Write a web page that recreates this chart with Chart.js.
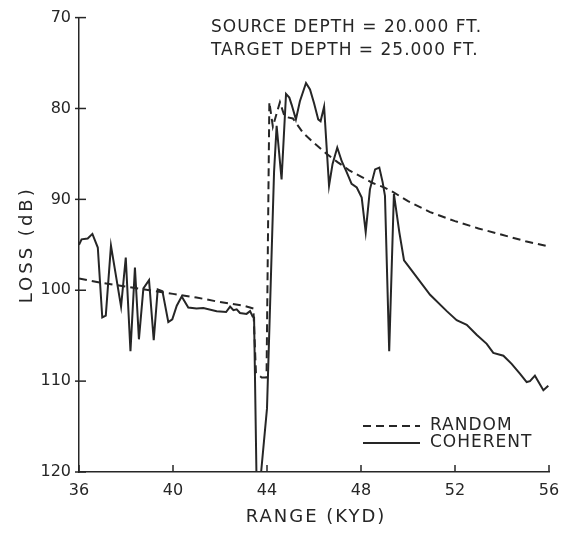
<!DOCTYPE html>
<html>
<head>
<meta charset="utf-8">
<script src="https://cdn.jsdelivr.net/npm/chart.js@4.4.0/dist/chart.umd.min.js"></script>
<style>
  html, body { margin: 0; padding: 0; background: #fff; }
  #wrap { width: 577px; height: 533px; }
</style>
</head>
<body>
<div id="wrap"><canvas id="loss-chart" width="577" height="533"></canvas></div>
<script>
// --- data ---
const xTicks = [36, 40, 44, 48, 52, 56];
const yTicks = [70, 80, 90, 100, 110, 120];

const coherentRange = [
  36.0, 36.11, 36.37, 36.57, 36.8, 36.99, 37.14, 37.36, 37.79, 37.99,
  38.19, 38.38, 38.55, 38.74, 38.98, 39.18, 39.35, 39.55, 39.8, 39.97,
  40.16, 40.37, 40.65, 41.0, 41.29, 41.86, 42.26, 42.43, 42.57, 42.71,
  42.85, 43.13, 43.28, 43.39, 43.45, 43.55, 43.75, 44.0, 44.15, 44.3,
  44.41, 44.62, 44.81, 44.95, 45.05, 45.23, 45.4, 45.66, 45.83, 46.0,
  46.18, 46.28, 46.43, 46.64, 46.79, 46.99, 47.18, 47.39, 47.6, 47.82,
  48.03, 48.2, 48.38, 48.6, 48.78, 48.92, 49.02, 49.2, 49.4, 49.63,
  49.83, 50.09, 50.94, 51.65, 52.07, 52.5, 52.92, 53.35, 53.63, 54.06,
  54.41, 54.77, 55.05, 55.19, 55.4, 55.76, 55.97
];
const coherentLoss = [
  95.0, 94.4, 94.3, 93.8, 95.3, 103.0, 102.8, 95.1, 101.8, 96.4,
  106.7, 97.5, 105.4, 99.8, 98.9, 105.5, 99.9, 100.1, 103.5, 103.2,
  101.7, 100.7, 101.9, 102.0, 101.95, 102.3, 102.4, 101.8, 102.2, 102.1,
  102.5, 102.6, 102.3, 102.9, 103.0, 120, 120, 113, 100, 87,
  81.9, 87.8, 78.4, 78.8, 79.6, 81.2, 79.2, 77.2, 77.9, 79.4,
  81.2, 81.4, 79.8, 88.5, 86.1, 84.3, 85.8, 87.0, 88.3, 88.7,
  89.8, 93.6, 88.9, 86.7, 86.5, 88.1, 89.6, 106.7, 89.4, 93.6,
  96.7, 97.6, 100.5, 102.3, 103.3, 103.8, 104.9, 105.9, 106.9, 107.2,
  108.1, 109.2, 110.1, 110.0, 109.4, 111.0, 110.5
];

const randomRange = [
  36, 37, 38, 39, 40, 41, 42, 43, 43.42, 43.53,
  43.77, 43.98, 44.1, 44.25, 44.55, 44.75, 45.1, 45.54, 46, 46.54,
  47, 47.5, 48, 48.5, 49, 49.37, 50, 50.94, 52, 53,
  54, 55, 56
];
const randomLoss = [
  98.7, 99.2, 99.6, 100.0, 100.4, 100.8, 101.3, 101.7, 102.0, 109.1,
  109.6, 109.6, 79.3, 82.0, 79.3, 80.9, 81.1, 82.7, 83.8, 85.0,
  85.9, 86.8, 87.5, 88.2, 88.7, 89.2, 90.2, 91.4, 92.4, 93.2,
  93.9, 94.6, 95.2
];

const notes = ['SOURCE DEPTH = 20.000 FT.', 'TARGET DEPTH = 25.000 FT.'];
const xTitle = 'RANGE (KYD)';
const yTitle = 'LOSS (dB)';

const INK = '#262626';
const FONT = '"DejaVu Sans", sans-serif';

function toPoints(xs, ys) {
  return xs.map((x, i) => ({ x: x, y: ys[i] }));
}

// --- custom bits: inside ticks, titles, notes, legend ---
const decorations = {
  id: 'decorations',
  afterDraw(chart) {
    const ctx = chart.ctx;
    const xs = chart.scales.x;
    const ys = chart.scales.y;
    const area = chart.chartArea;
    ctx.save();
    ctx.strokeStyle = INK;
    ctx.lineWidth = 1.5;

    // tick marks
    yTicks.forEach(v => {
      const py = ys.getPixelForValue(v);
      ctx.beginPath();
      ctx.moveTo(area.left - 4, py);
      ctx.lineTo(area.left + 7, py);
      ctx.stroke();
    });
    xTicks.forEach(v => {
      const px = xs.getPixelForValue(v);
      ctx.beginPath();
      ctx.moveTo(px, area.bottom);
      ctx.lineTo(px, area.bottom - 7);
      ctx.stroke();
    });

    ctx.fillStyle = INK;
    ctx.textBaseline = 'middle';

    // axis titles (wide lettering like the original)
    ctx.font = '18px ' + FONT;
    ctx.letterSpacing = '2px';
    ctx.textAlign = 'center';
    ctx.fillText(xTitle, (area.left + area.right) / 2 + 2, 517);
    ctx.save();
    ctx.translate(27, (area.top + area.bottom) / 2);
    ctx.rotate(-Math.PI / 2);
    ctx.letterSpacing = '3px';
    ctx.fillText(yTitle, 0, 0);
    ctx.restore();

    // notes at top
    ctx.font = '17px ' + FONT;
    ctx.letterSpacing = '1px';
    ctx.textAlign = 'left';
    ctx.fillText(notes[0], 211, 28);
    ctx.fillText(notes[1], 211, 51);

    // legend
    chart.data.datasets.forEach((ds, i) => {
      const ly = 426 + i * 17;
      ctx.beginPath();
      ctx.setLineDash(ds.borderDash || []);
      ctx.lineWidth = ds.borderWidth;
      ctx.moveTo(363, ly);
      ctx.lineTo(420, ly);
      ctx.stroke();
      ctx.setLineDash([]);
      ctx.fillText(ds.label, 430, ly);
    });
    ctx.letterSpacing = '0px';
    ctx.restore();
  }
};

const ctx = document.getElementById('loss-chart').getContext('2d');
new Chart(ctx, {
  type: 'line',
  data: {
    datasets: [
      {
        label: 'RANDOM',
        data: toPoints(randomRange, randomLoss),
        borderColor: INK,
        borderWidth: 2,
        borderDash: [8, 5],
        pointRadius: 0,
        tension: 0
      },
      {
        label: 'COHERENT',
        data: toPoints(coherentRange, coherentLoss),
        borderColor: INK,
        borderWidth: 2,
        pointRadius: 0,
        tension: 0
      }
    ]
  },
  options: {
    responsive: false,
    animation: false,
    layout: { padding: { top: 14, right: 28, left: 0, bottom: 0 } },
    plugins: {
      legend: { display: false },
      tooltip: { enabled: false }
    },
    scales: {
      x: {
        type: 'linear',
        min: 36,
        max: 56,
        afterBuildTicks: s => { s.ticks = xTicks.map(v => ({ value: v })); },
        afterFit: s => { s.height = 61; },
        grid: { display: true, drawOnChartArea: false, drawTicks: false },
        border: { color: INK, width: 1.5 },
        ticks: { color: INK, font: { family: FONT, size: 16 }, padding: 9 },
        title: { display: false }
      },
      y: {
        type: 'linear',
        reverse: true,
        min: 70,
        max: 120,
        afterBuildTicks: s => { s.ticks = yTicks.map(v => ({ value: v })); },
        afterFit: s => { s.width = 79; },
        grid: { display: true, drawOnChartArea: false, drawTicks: false },
        border: { color: INK, width: 1.5 },
        ticks: { color: INK, font: { family: FONT, size: 16 }, padding: 8 },
        title: { display: false }
      }
    }
  },
  plugins: [decorations]
});
</script>
</body>
</html>
